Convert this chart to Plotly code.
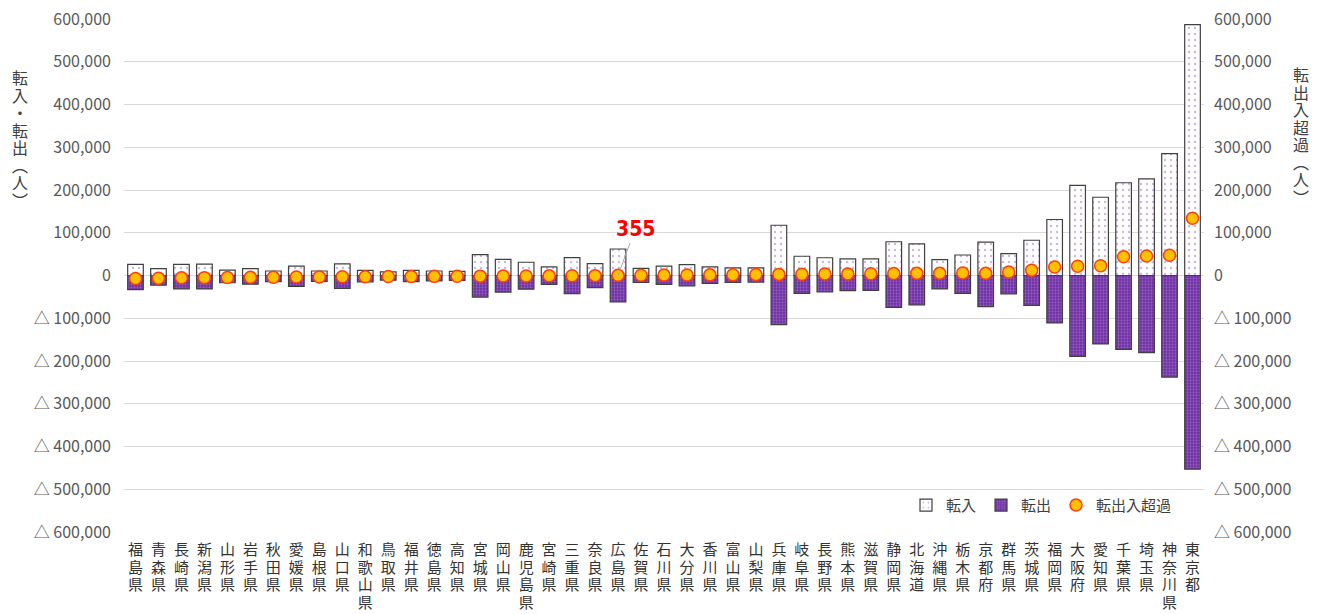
import plotly.graph_objects as go

prefectures = ["福島県", "青森県", "長崎県", "新潟県", "山形県", "岩手県", "秋田県", "愛媛県", "島根県", "山口県",
               "和歌山県", "鳥取県", "福井県", "徳島県", "高知県", "宮城県", "岡山県", "鹿児島県", "宮崎県", "三重県",
               "奈良県", "広島県", "佐賀県", "石川県", "大分県", "香川県", "富山県", "山梨県", "兵庫県", "岐阜県",
               "長野県", "熊本県", "滋賀県", "静岡県", "北海道", "沖縄県", "栃木県", "京都府", "群馬県", "茨城県",
               "福岡県", "大阪府", "愛知県", "千葉県", "埼玉県", "神奈川県", "東京都"]

tennyu = [26000, 16000, 26000, 26500, 12500, 16000, 10500, 22000, 10500, 27000,
          12000, 8500, 12000, 10500, 9500, 49000, 37500, 31000, 20000, 42000,
          28000, 62000, 16500, 22000, 25500, 20000, 18000, 18000, 117500, 45000,
          41500, 39000, 39000, 79000, 74000, 37000, 48000, 78000, 51000, 82500,
          131000, 211000, 183000, 217000, 226000, 285000, 587000]

tenshutsu = [-33000, -22500, -31500, -31500, -17000, -20500, -14500, -25500, -13800, -30000,
             -14800, -11000, -14300, -12500, -11300, -50500, -38800, -32000, -20800, -42600,
             -28300, -61645, -15900, -21100, -24300, -18500, -16200, -15800, -114900, -42000,
             -38100, -35200, -34800, -74400, -69000, -31500, -42000, -73000, -43000, -70000,
             -111000, -189000, -160000, -173000, -180500, -237500, -453000]

net = [-7200, -6300, -5500, -5000, -4600, -4300, -4000, -3600, -3300, -3000,
       -2800, -2500, -2300, -2000, -1800, -1500, -1300, -1000, -800, -600,
       -300, 355, 600, 900, 1200, 1500, 1800, 2200, 2600, 3000,
       3400, 3800, 4200, 4600, 5000, 5500, 6000, 5000, 8000, 12500,
       20000, 21500, 23000, 44000, 45500, 47500, 134000]

tick_vals = [600000, 500000, 400000, 300000, 200000, 100000, 0,
             -100000, -200000, -300000, -400000, -500000, -600000]
tick_text = ["600,000", "500,000", "400,000", "300,000", "200,000", "100,000", "0",
             "△ 100,000", "△ 200,000", "△ 300,000", "△ 400,000", "△ 500,000", "△ 600,000"]

left_title = "転入・転出︵人︶"
right_title = "転出入超過︵人︶"


def vertical(s, px):
    return "<br>".join('<span style="font-size:%dpx">%s</span>' % (px, c) for c in s)


x_labels = [vertical(p, 15) for p in prefectures]

JP = "Noto Sans CJK JP"
PURPLE = "#7030A0"

fig = go.Figure()
fig.add_trace(go.Bar(
    x=prefectures, y=tennyu, name="転入",
    marker=dict(color="white", line=dict(color="#404040", width=1.2),
                pattern=dict(shape=".", fgcolor="#9a6cc8", bgcolor="white", size=6, solidity=0.12)),
))
fig.add_trace(go.Bar(
    x=prefectures, y=tenshutsu, name="転出",
    marker=dict(color=PURPLE, line=dict(color="#404040", width=1.2),
                pattern=dict(shape=".", fgcolor="#b18ae0", bgcolor="#6c2c9e", size=3, solidity=0.45)),
))
fig.add_trace(go.Scatter(
    x=prefectures, y=net, name="転出入超過", yaxis="y2", mode="markers",
    marker=dict(color="#FFC000", size=12, line=dict(color="#FF3D0D", width=1.5)),
))

fig.add_annotation(x="広島県", y=355, yref="y2", text="<b>355</b>", showarrow=True,
                   arrowhead=0, arrowwidth=1, arrowcolor="#a6a6a6", ax=17, ay=-46,
                   font=dict(family="Liberation Sans Narrow, DejaVu Sans Condensed, Arial Narrow, Roboto, sans-serif",
                             size=21, color="#FF0000"))

fig.add_annotation(xref="paper", yref="paper", x=-0.0963, y=0.914, xanchor="center", yanchor="top",
                   showarrow=False, text=vertical(left_title, 16),
                   font=dict(family=JP, size=13.5, color="#404040"))
fig.add_annotation(xref="paper", yref="paper", x=1.0898, y=0.920, xanchor="center", yanchor="top",
                   showarrow=False, text=vertical(right_title, 16),
                   font=dict(family=JP, size=13.5, color="#404040"))

fig.update_layout(
    width=1327, height=614,
    margin=dict(l=124, r=123, t=19, b=82, autoexpand=False),
    barmode="overlay", bargap=0.32,
    plot_bgcolor="white", paper_bgcolor="white",
    font=dict(family=JP, color="#595959"),
    showlegend=True,
    legend=dict(orientation="h", x=0.975, xanchor="right", y=0.052, yanchor="middle",
                font=dict(family=JP, size=15, color="#404040"), itemwidth=30,
                bgcolor="rgba(0,0,0,0)", traceorder="normal"),
    xaxis=dict(type="category", range=[-0.5, 46.5], tickmode="array", tickvals=prefectures, ticktext=x_labels,
               tickfont=dict(family=JP, size=13.4, color="#333333"), showgrid=False,
               showline=False, ticks="", zeroline=False, automargin=False, ticklabelstandoff=9,
               ticklabeloverflow="allow"),
    yaxis=dict(range=[-600000, 600000], tickmode="array", tickvals=tick_vals, ticktext=tick_text,
               tickfont=dict(family=JP, size=16, color="#595959"), gridcolor="#d9d9d9", gridwidth=1,
               zeroline=False, showline=False, ticks="", ticklabelstandoff=12, automargin=False,
               ticklabeloverflow="allow"),
    yaxis2=dict(range=[-600000, 600000], overlaying="y", side="right", tickmode="array",
                tickvals=tick_vals, ticktext=tick_text,
                tickfont=dict(family=JP, size=16, color="#595959"), showgrid=False,
                zeroline=False, showline=False, ticks="", ticklabelstandoff=9, automargin=False,
                ticklabeloverflow="allow"),
)

# remove the browser's default 8px body margin so the figure fills the window exactly
fig.write_html("out.html", config={"displayModeBar": False},
               post_script="document.body.style.margin='0';")
